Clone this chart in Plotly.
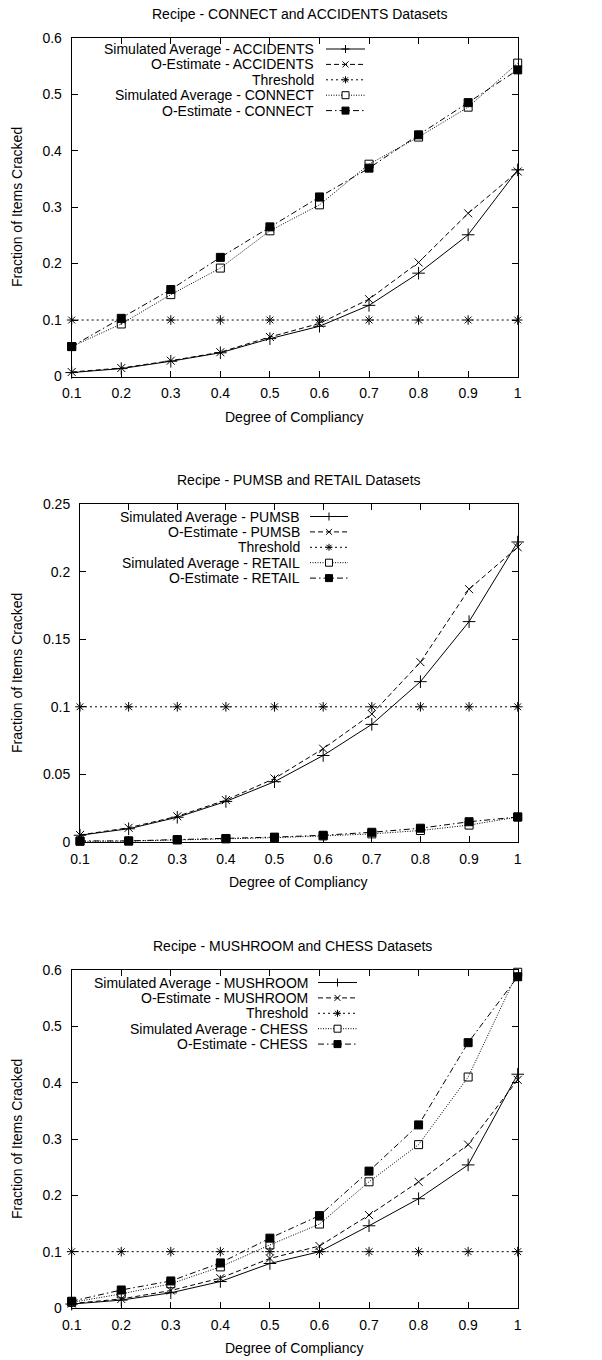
import plotly.graph_objects as go

# ---------------- data ----------------
compliancy = [0.1, 0.2, 0.3, 0.4, 0.5, 0.6, 0.7, 0.8, 0.9, 1.0]
x_tick_vals = [0.1, 0.2, 0.3, 0.4, 0.5, 0.6, 0.7, 0.8, 0.9, 1.0]
x_tick_text = ["0.1", "0.2", "0.3", "0.4", "0.5", "0.6", "0.7", "0.8", "0.9", "1"]

# Plot 1: CONNECT and ACCIDENTS
accidents_sim = [0.007, 0.014, 0.027, 0.042, 0.067, 0.089, 0.126, 0.183, 0.251, 0.366]
accidents_est = [0.008, 0.015, 0.028, 0.043, 0.070, 0.094, 0.137, 0.202, 0.289, 0.363]
threshold_1 = [0.1, 0.1, 0.1, 0.1, 0.1, 0.1, 0.1, 0.1, 0.1, 0.1]
connect_sim = [0.053, 0.093, 0.145, 0.192, 0.258, 0.304, 0.376, 0.424, 0.477, 0.555]
connect_est = [0.053, 0.103, 0.154, 0.211, 0.265, 0.318, 0.369, 0.428, 0.485, 0.543]
y1_ticks = [0, 0.1, 0.2, 0.3, 0.4, 0.5, 0.6]
y1_text = ["0", "0.1", "0.2", "0.3", "0.4", "0.5", "0.6"]

# Plot 2: PUMSB and RETAIL
pumsb_sim = [0.0050, 0.0098, 0.0183, 0.0300, 0.0446, 0.0640, 0.0870, 0.1186, 0.1630, 0.2219]
pumsb_est = [0.0052, 0.0105, 0.0190, 0.0310, 0.0470, 0.0690, 0.0947, 0.1330, 0.1870, 0.2180]
threshold_2 = [0.1, 0.1, 0.1, 0.1, 0.1, 0.1, 0.1, 0.1, 0.1, 0.1]
retail_sim = [0.0005, 0.0007, 0.0015, 0.0023, 0.0032, 0.0045, 0.0060, 0.0085, 0.0125, 0.0185]
retail_est = [0.0008, 0.0008, 0.0018, 0.0026, 0.0036, 0.0050, 0.0072, 0.0102, 0.0150, 0.0185]
y2_ticks = [0, 0.05, 0.1, 0.15, 0.2, 0.25]
y2_text = ["0", "0.05", "0.1", "0.15", "0.2", "0.25"]

# Plot 3: MUSHROOM and CHESS
mushroom_sim = [0.007, 0.014, 0.027, 0.047, 0.079, 0.100, 0.146, 0.194, 0.254, 0.415]
mushroom_est = [0.008, 0.016, 0.031, 0.053, 0.088, 0.110, 0.165, 0.224, 0.290, 0.405]
threshold_3 = [0.1, 0.1, 0.1, 0.1, 0.1, 0.1, 0.1, 0.1, 0.1, 0.1]
chess_sim = [0.010, 0.025, 0.043, 0.073, 0.112, 0.149, 0.224, 0.290, 0.410, 0.596]
chess_est = [0.012, 0.032, 0.048, 0.080, 0.124, 0.164, 0.243, 0.325, 0.471, 0.588]
y3_ticks = [0, 0.1, 0.2, 0.3, 0.4, 0.5, 0.6]
y3_text = ["0", "0.1", "0.2", "0.3", "0.4", "0.5", "0.6"]

titles = ["Recipe - CONNECT and ACCIDENTS Datasets",
          "Recipe - PUMSB and RETAIL Datasets",
          "Recipe - MUSHROOM and CHESS Datasets"]
names_1 = ["Simulated Average - ACCIDENTS", "O-Estimate - ACCIDENTS", "Threshold",
           "Simulated Average - CONNECT", "O-Estimate - CONNECT"]
names_2 = ["Simulated Average - PUMSB", "O-Estimate - PUMSB", "Threshold",
           "Simulated Average - RETAIL", "O-Estimate - RETAIL"]
names_3 = ["Simulated Average - MUSHROOM", "O-Estimate - MUSHROOM", "Threshold",
           "Simulated Average - CHESS", "O-Estimate - CHESS"]

# ---------------- styling ----------------
W, H = 602, 1360
FONT = "Liberation Sans, Arial, Helvetica, sans-serif"
FS = 14
BLACK = "#000000"

styles = [
    dict(dash="solid", symbol="cross-thin-open", size=9),
    dict(dash="5px,3px", symbol="x-thin-open", size=8),
    dict(dash="2px,3px", symbol="asterisk-open", size=8),
    dict(dash="1px,1.5px", symbol="square-open", size=8),
    dict(dash="6px,3px,1.5px,3px", symbol="square", size=8),
]

# panel pixel boxes: left, right, top, bottom
panels = [
    dict(l=71.7, r=517.7, t=37.7, b=376.5, title_x=299, leg_text_r=316, leg_l=326, leg_r=365, leg_top=49),
    dict(l=80.0, r=517.7, t=504.0, b=842.0, title_x=299, leg_text_r=302, leg_l=310, leg_r=348, leg_top=516.5),
    dict(l=71.7, r=517.7, t=970.0, b=1308.0, title_x=292, leg_text_r=310, leg_l=318, leg_r=357, leg_top=982.5),
]
LEG_STEP = 15.4

series_sets = [
    ([accidents_sim, accidents_est, threshold_1, connect_sim, connect_est], names_1, y1_ticks, y1_text, 0.6),
    ([pumsb_sim, pumsb_est, threshold_2, retail_sim, retail_est], names_2, y2_ticks, y2_text, 0.25),
    ([mushroom_sim, mushroom_est, threshold_3, chess_sim, chess_est], names_3, y3_ticks, y3_text, 0.6),
]

fig = go.Figure()
shapes = []
annotations = []

for k, (panel, (series, names, yt, ytt, ymax)) in enumerate(zip(panels, series_sets)):
    ax = "" if k == 0 else str(k + 1)
    xa, ya = "x" + ax, "y" + ax
    pw = panel["r"] - panel["l"]
    ph = panel["b"] - panel["t"]
    for vals, name, st in zip(series, names, styles):
        fig.add_trace(go.Scatter(
            x=compliancy, y=vals, name=name, mode="lines+markers",
            xaxis=xa, yaxis=ya, showlegend=False, cliponaxis=False,
            line=dict(color=BLACK, width=1, dash=st["dash"]),
            marker=dict(symbol=st["symbol"], size=st["size"], color=BLACK,
                        line=dict(color=BLACK, width=1)),
        ))
    axis_common = dict(
        showline=True, linecolor=BLACK, linewidth=1, mirror="ticks",
        ticks="inside", ticklen=6, tickcolor=BLACK, tickwidth=1,
        showgrid=False, zeroline=False,
        tickfont=dict(family=FONT, size=FS, color=BLACK),
        automargin=False,
    )
    fig.layout["xaxis" + ax] = dict(
        axis_common, domain=[panel["l"] / W, panel["r"] / W],
        range=[0.1, 1.0], tickvals=x_tick_vals, ticktext=x_tick_text,
        anchor=ya, ticklabelstandoff=4,
    )
    fig.layout["yaxis" + ax] = dict(
        axis_common, domain=[1 - panel["b"] / H, 1 - panel["t"] / H],
        range=[0, ymax], tickvals=yt, ticktext=ytt,
        anchor=xa, ticklabelstandoff=6,
    )
    xd, yd = xa + " domain", ya + " domain"
    # title
    annotations.append(dict(
        text=titles[k], xref="paper", yref=yd, x=panel["title_x"] / W, y=1 + 24 / ph,
        xanchor="center", yanchor="middle", showarrow=False,
        font=dict(family=FONT, size=FS, color=BLACK)))
    # x title
    annotations.append(dict(
        text="Degree of Compliancy", xref=xd, yref=yd, x=0.5, y=-40 / ph,
        xanchor="center", yanchor="middle", showarrow=False,
        font=dict(family=FONT, size=FS, color=BLACK)))
    # y title
    annotations.append(dict(
        text="Fraction of Items Cracked", xref="paper", yref=yd, x=17 / W, y=0.5,
        xanchor="center", yanchor="middle", textangle=-90, showarrow=False,
        font=dict(family=FONT, size=FS, color=BLACK)))
    # legend (gnuplot style: text right-aligned, sample on the right)
    for i, (name, st) in enumerate(zip(names, styles)):
        yrow = 1 - (panel["leg_top"] + i * LEG_STEP - panel["t"]) / ph
        annotations.append(dict(
            text=name, xref=xd, yref=yd, x=(panel["leg_text_r"] - panel["l"]) / pw, y=yrow,
            xanchor="right", yanchor="middle", showarrow=False,
            font=dict(family=FONT, size=FS, color=BLACK)))
        lx0 = (panel["leg_l"] - panel["l"]) / pw
        lx1 = (panel["leg_r"] - panel["l"]) / pw
        shapes.append(dict(type="line", xref=xd, yref=yd, x0=lx0, x1=lx1, y0=yrow, y1=yrow,
                           line=dict(color=BLACK, width=1, dash=st["dash"])))
        cx = (lx0 + lx1) / 2
        base = dict(xref=xd, yref=yd, xsizemode="pixel", ysizemode="pixel",
                    xanchor=cx, yanchor=yrow)
        sym = st["symbol"]
        if sym in ("cross-thin-open", "asterisk-open"):
            r = 4 if sym == "cross-thin-open" else 3.5
            shapes.append(dict(base, type="line", x0=-r, x1=r, y0=0, y1=0, line=dict(color=BLACK, width=1)))
            shapes.append(dict(base, type="line", x0=0, x1=0, y0=-r, y1=r, line=dict(color=BLACK, width=1)))
        if sym in ("x-thin-open", "asterisk-open"):
            r = 3 if sym == "x-thin-open" else 2.5
            shapes.append(dict(base, type="line", x0=-r, x1=r, y0=-r, y1=r, line=dict(color=BLACK, width=1)))
            shapes.append(dict(base, type="line", x0=-r, x1=r, y0=r, y1=-r, line=dict(color=BLACK, width=1)))
        if sym == "square-open":
            shapes.append(dict(base, type="rect", x0=-3.5, x1=3.5, y0=-3.5, y1=3.5,
                               fillcolor="white", line=dict(color=BLACK, width=1)))
        if sym == "square":
            shapes.append(dict(base, type="rect", x0=-3.5, x1=3.5, y0=-3.5, y1=3.5,
                               fillcolor=BLACK, line=dict(color=BLACK, width=1)))

fig.update_layout(
    width=W, height=H,
    margin=dict(l=0, r=0, t=0, b=0),
    paper_bgcolor="white", plot_bgcolor="white",
    font=dict(family=FONT, size=FS, color=BLACK),
    shapes=shapes, annotations=annotations, showlegend=False,
)

fig.write_html("out.html")
